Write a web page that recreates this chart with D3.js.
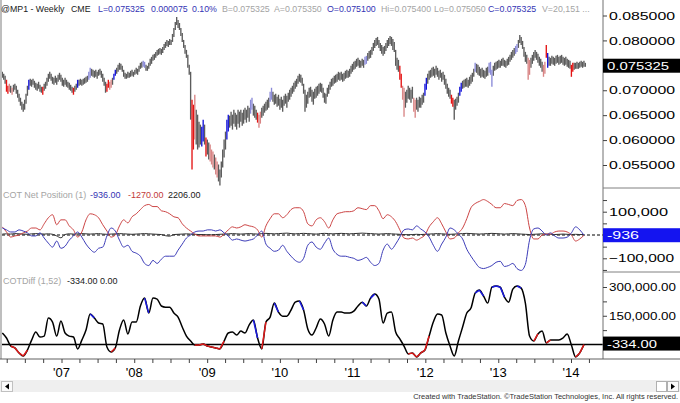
<!DOCTYPE html>
<html><head><meta charset="utf-8">
<script src="https://cdn.jsdelivr.net/npm/d3@7"></script>
<style>html,body{margin:0;padding:0;background:#fff;}svg{display:block;font-family:Arial,"Liberation Sans",sans-serif;}</style>
</head><body><svg id="c" width="680" height="403"></svg>
<script>
// ---------------- DATA ----------------
const firstBarDate = "2006-03-10";           // weekly bars, one per week
// weekly highs / lows, price x 10000
const highsX1e4 = [
737,733,729,721,709,713,709,705,711,713, 709,701,693,685,677,673,681,693,709,721,
723,721,723,719,715,713,717,711,707,707, 713,717,725,733,737,733,727,725,729,725,
731,735,731,725,721,725,721,717,715,711, 707,705,709,713,721,721,723,721,723,725,
727,729,737,745,743,741,739,741,737,741, 743,739,733,725,717,713,721,717,721,725,
733,741,745,751,755,753,749,741,735,733, 737,735,739,741,737,741,745,743,749,755,
757,759,757,751,749,755,763,767,771,773, 777,781,783,785,783,787,793,797,801,799,
803,801,813,825,837,847,841,835,825,815, 801,791,781,771,751,737,681,671,691,661,
651,637,631,627,641,631,605,601,595,591, 581,577,571,565,557,551,541,557,581,601,
617,641,651,649,657,651,661,655,651,661, 657,661,655,661,665,661,669,665,681,685,
673,669,661,655,651,657,665,669,673,677, 681,685,697,705,697,691,693,687,691,683,
687,681,689,693,689,695,701,705,709,715, 719,723,729,733,731,725,713,701,691,697,
705,707,701,697,703,707,709,713,715,713, 705,695,693,705,711,717,723,725,729,731,
733,737,735,737,733,735,739,741,739,743, 749,753,757,759,763,765,761,759,763,761,
767,769,775,779,781,787,795,801,805,807, 801,795,791,787,789,795,801,805,809,807,
803,797,781,765,761,749,733,709,705,697, 701,709,705,701,707,685,681,685,681,687,
685,691,695,713,725,733,739,741,745,747, 743,749,745,739,741,735,737,731,723,713,
705,701,691,685,681,683,687,695,707,715, 719,721,723,725,721,727,731,735,743,755,
753,751,747,743,745,741,739,745,747,755, 757,741,749,755,757,759,761,759,763,765,
761,759,763,767,771,777,781,785,789,793, 801,811,807,799,787,777,771,765,761,765,
771,777,781,777,773,767,763,757,751,757, 791,775,767,765,769,767,765,769,771,767,
769,771,767,765,767,763,761,759,751,755, 755,755,757,755,757,759,757,759,755];
const lowsX1e4 = [
725,721,713,697,693,697,695,691,697,701, 693,685,677,669,661,657,661,673,689,701,
709,707,711,705,701,699,703,697,695,691, 699,703,709,717,723,719,713,711,715,711,
717,721,717,709,707,711,707,705,701,699, 695,691,697,701,705,709,711,709,711,713,
715,717,721,725,729,727,725,727,723,729, 731,725,717,709,695,697,705,701,705,711,
721,729,733,737,741,741,737,727,723,723, 725,725,727,729,727,731,733,731,737,743,
745,747,745,739,739,743,749,753,759,761, 765,769,771,773,771,775,781,785,789,787,
791,791,797,807,821,831,825,821,809,797, 785,773,765,745,731,641,541,581,601,591,
581,585,591,587,597,591,567,571,561,557, 551,545,541,531,525,517,509,525,545,565,
581,601,617,625,629,621,633,627,621,633, 625,637,629,633,641,635,645,637,653,661,
649,645,641,635,625,633,645,649,655,659, 661,665,677,681,677,671,673,667,669,661,
665,657,669,673,665,677,681,687,693,697, 703,707,713,717,715,709,693,657,665,673,
685,687,677,671,683,685,689,693,697,695, 685,675,673,687,693,701,707,709,713,715,
717,721,719,721,717,719,723,725,725,727, 733,737,741,743,747,749,745,745,749,745,
751,753,759,763,765,771,779,785,789,791, 785,779,773,769,773,779,785,789,793,789,
781,777,749,741,737,721,705,681,647,665, 675,683,681,675,683,657,645,661,657,665,
665,671,675,689,701,713,721,725,727,729, 725,731,727,721,725,717,721,711,703,693,
687,683,673,667,641,661,669,675,689,697, 703,705,707,707,705,709,713,717,727,737,
735,731,729,725,727,725,723,727,729,735, 731,707,729,739,741,743,745,745,749,749,
747,745,749,751,757,761,765,769,773,777, 785,795,791,783,767,757,753,721,731,745,
753,759,765,761,755,749,745,737,727,733, 765,745,749,749,753,751,749,753,755,751,
753,755,751,749,751,747,745,743,727,737, 741,743,743,743,745,747,745,747,747];
// bar signal states (week index lists): r strong sell, p weak sell, b strong buy, l weak buy
const barSignalR = [3,4,29,51,75,76,136,137,146,183,285,286,322,323,390,408,409];
const barSignalP = [5,7,77,78,138,149,150,151,153,154,184,185,287,288,295,296,377,378,388,389];
const barSignalB = [19,54,80,81,143,144,161,162,303,304,328,329,391];
const barSignalL = [62,63,101,102,178,179,192,193,260,261,339,349,350,351,368,369];

// COT net positions, thousands of contracts, one value every 3 weeks
const cotLarge = [
30,22,13,13,22,17,9,-4,-4,9, -13,-35,-52,-26,-57,-48,-22,-4,13,-9,
-39,-61,-74,-57,-52,-4,30,17,-22,-52, -44,-70,-78,-91,-122,-131,-109,-122,-104,-91,
-91,-91,-65,-39,-13,0,13,17,17,22, 22,17,22,9,-4,-22,-17,-22,-26,-22,
-17,0,17,-39,-57,-70,-65,-44,-70,-91, -109,-117,-100,-44,-30,-52,-61,-35,-13,-61,
-83,-91,-91,-96,-100,-109,-104,-96,-117,-131, -122,-65,-39,-61,-39,-9,22,26,22,39,
26,13,-9,-44,-70,-39,-9,30,22,4, -17,-61,-91,-117,-139,-144,-139,-131,-117,-113,
-135,-131,-122,-144,-152,-126,-22,26,30,17, 0,9,-4,-13,-13,-9,9,35,22,-0.936];
const cotCommercial = [
35,13,-9,-4,0,9,17,30,30,22, 48,74,87,44,65,65,39,22,-9,13,
65,91,87,74,44,17,-9,0,39,65, 52,78,91,109,126,131,122,122,104,100,
91,78,74,48,30,17,4,-4,-4,-4, -4,-4,-9,4,22,35,30,35,44,39,
35,22,-9,39,70,91,91,74,87,109, 117,117,100,48,39,65,74,57,30,65,
91,96,100,100,104,117,113,109,126,126, 104,70,87,78,57,22,-13,-17,-13,-22,
-13,0,35,57,74,48,13,-17,-13,9, 30,70,117,135,144,152,144,131,117,117,
135,131,126,148,152,126,30,-17,-17,0, 4,4,13,17,17,13,0,-26,-17,-1.27];
const cotSmall = [
4,5,4,6,5,4,3,5,6,5, 4,5,3,-4,-12,2,5,4,5,6,
5,4,5,6,4,3,4,5,6,5, 4,3,4,5,6,5,4,3,2,-3,
-5,2,3,4,5,4,3,2,2,1, 1,2,3,4,5,6,5,4,5,6,
5,4,6,7,6,5,6,7,8,6, 5,6,7,6,5,4,6,7,6,5,
6,7,6,5,6,7,8,7,6,5, 4,5,6,5,4,3,2,1,2,3,
2,3,4,5,6,5,4,3,4,5, 6,7,6,5,4,5,6,7,6,5,
4,5,6,5,4,3,2,3,4,5, 4,3,2,3,4,3,2,3,2,2.206];
// COTDiff (1,52), thousands, every 3 weeks
const cotDiff = [
60,34,-8,-18,-44,-60,-29,23,65,39, 44,138,117,44,122,60,44,39,-23,23,
76,159,138,112,107,-13,-39,-18,76,128, 55,117,117,201,242,164,242,237,201,195,
195,164,143,91,44,18,-3,-3,3,-8, -13,-18,-23,18,60,65,49,70,60,102,
128,34,-23,117,143,216,169,148,148,180, 221,227,180,81,49,86,133,107,44,128,
169,169,164,164,174,201,221,201,242,263, 237,112,164,169,65,29,-8,-49,-44,-65,
-44,-29,44,117,159,154,60,-8,-60,18, 91,164,190,268,284,253,216,299,305,299,
247,221,289,305,294,216,44,18,55,70, 8,23,23,23,34,55,-3,-65,-44,-0.334];
const diffSignalHigh = [21,34,60,65,71,86,88,113,114,117,118,119,123];
const diffSignalLow  = [2,3,4,5,26,46,47,48,49,50,51,52,62,97,98,99,100,101,127,130,137,138];

const priceTicks = [0.085,0.080,0.070,0.065,0.060,0.055];
const cotTicks = [100,-100];
const cotMinorTicks = [150,50,-50,-150];
const diffTicks = [300,150];
const diffMinorTicks = [225,75];
const years = [2007,2008,2009,2010,2011,2012,2013,2014];
const yearLabels = ["'07","'08","'09","'10","'11","'12","'13","'14"];
const lastPrice = 0.075325, lastCot = "-936", lastDiff = "-334.00";

const headerParts = [["@MP1 - Weekly","k"],["CME","k"],["L=0.075325","b"],["0.000075","b"],["0.10%","b"],
  ["B=0.075325","g"],["A=0.075350","g"],["O=0.075100","b"],["Hi=0.075400","g"],["Lo=0.075050","g"],
  ["C=0.075325","b"],["V=20,151 ...","g"]];
const cotHeader = [["COT Net Position (1)","g"],["-936.00","b"],["-1270.00","r"],["2206.00","k"]];
const diffHeader = [["COTDiff (1,52)","g"],["-334.00","k"],["0.00","k"]];
const footer = "Created with TradeStation. \u00A9TradeStation Technologies, Inc. All rights reserved.";

// ---------------- DRAW ----------------
const svg = d3.select("#c");
const t0 = d3.timeParse("%Y-%m-%d")(firstBarDate);
const weekDate = i => d3.timeDay.offset(t0, 7 * i);
const x = d3.scaleTime().domain([new Date(2007,0,1), new Date(2014,0,1)]).range([61.5, 571]);
const yP = d3.scaleLinear().domain([0.055, 0.085]).range([165, 15.5]);
const yC = d3.scaleLinear().domain([-100, 100]).range([258.3, 211.7]);
const yD = d3.scaleLinear().domain([0, 300]).range([344.5, 287]);
const PL = 2, PR = 603, BOT = 359;

svg.append("defs").append("clipPath").attr("id","plot").append("rect")
  .attr("x",PL).attr("y",0).attr("width",PR-PL).attr("height",BOT);

const txtCol = {k:"#202020", b:"#3434b4", g:"#a4a4a4", r:"#c23a3a"};
function header(parts, xs, y, fs){
  svg.append("g").selectAll("text").data(parts).join("text")
    .attr("x",(d,i)=>xs[i]).attr("y",y).attr("font-size",fs||9)
    .attr("fill",d=>txtCol[d[1]]).text(d=>d[0]);
}

// price bars
const sig = new Map();
barSignalR.forEach(i=>sig.set(i,"r")); barSignalP.forEach(i=>sig.set(i,"p"));
barSignalB.forEach(i=>sig.set(i,"b")); barSignalL.forEach(i=>sig.set(i,"l"));
const barCol = {g:"#5c5c5c", r:"#e41414", p:"#d88484", b:"#1414d8", l:"#8a8ad8"};
const bars = highsX1e4.map((h,i)=>({i, h:h/1e4, l:lowsX1e4[i]/1e4, s:sig.get(i)||"g"}));
const gBars = svg.append("g").attr("clip-path","url(#plot)");
gBars.selectAll("line").data(bars.filter(d=>d.s==="g").concat(bars.filter(d=>d.s!=="g"))).join("line")
  .attr("x1",d=>x(weekDate(d.i))).attr("x2",d=>x(weekDate(d.i)))
  .attr("y1",d=>yP(d.h)).attr("y2",d=>yP(d.l))
  .attr("stroke",d=>barCol[d.s]).attr("stroke-width",1.35);

// COT panel
const cx = (d,k)=>x(weekDate(3*k));
const gC = svg.append("g").attr("clip-path","url(#plot)");
gC.append("line").attr("x1",PL).attr("x2",PR).attr("y1",yC(0)).attr("y2",yC(0))
  .attr("stroke","#000").attr("stroke-dasharray","3,2").attr("stroke-width",1);
const lineC = d3.line().x(cx).y(d=>yC(d)).curve(d3.curveMonotoneX);
gC.append("path").attr("d",lineC(cotSmall)).attr("fill","none").attr("stroke","#303030").attr("stroke-width",1);
gC.append("path").attr("d",lineC(cotCommercial)).attr("fill","none").attr("stroke","#cc4444").attr("stroke-width",1);
gC.append("path").attr("d",lineC(cotLarge)).attr("fill","none").attr("stroke","#3c3cb8").attr("stroke-width",1);

// COTDiff panel
const gD = svg.append("g").attr("clip-path","url(#plot)");
gD.append("line").attr("x1",PL).attr("x2",PR).attr("y1",yD(0)).attr("y2",yD(0))
  .attr("stroke","#000").attr("stroke-width",1.4);
const lineD = d3.line().x(cx).y(d=>yD(d)).curve(d3.curveMonotoneX);
gD.append("path").attr("d",lineD(cotDiff)).attr("fill","none").attr("stroke","#000").attr("stroke-width",1.5);
function segs(list,color){
  list.forEach(k=>{
    const idx=[k,k+1].filter(j=>j>=0&&j<cotDiff.length);
    const seg=d3.line().x(j=>x(weekDate(3*j))).y(j=>yD(cotDiff[j]));
    gD.append("path").attr("d",seg(idx)).attr("fill","none").attr("stroke",color).attr("stroke-width",1.5);
  });
}
segs(diffSignalHigh,"#1a1ae0"); segs(diffSignalLow,"#e01a1a");

// frame
svg.append("line").attr("x1",1).attr("x2",1).attr("y1",0).attr("y2",BOT).attr("stroke","#a8a8a8").attr("stroke-width",1.5);
svg.append("line").attr("x1",PR).attr("x2",PR).attr("y1",0).attr("y2",BOT).attr("stroke","#707070");
svg.append("line").attr("x1",0).attr("x2",680).attr("y1",BOT).attr("y2",BOT).attr("stroke","#606060");
[188,272].forEach(y=>svg.append("line").attr("x1",PR).attr("x2",680).attr("y1",y).attr("y2",y).attr("stroke","#808080"));

// right axes
function rAxis(scale, vals, fmt, tl, minor){
  const g = svg.append("g").attr("transform",`translate(${PR},0)`)
    .call(d3.axisRight(scale).tickValues(vals).tickFormat(fmt).tickSize(4).tickPadding(2));
  g.select(".domain").remove();
  g.selectAll("line").attr("stroke","#404040");
  g.selectAll("text").attr("font-size",11.5).attr("fill","#000").attr("font-family","Arial,'Liberation Sans',sans-serif")
    .attr("textLength",tl).attr("lengthAdjust","spacingAndGlyphs");
  if(minor){
    const m = svg.append("g").attr("transform",`translate(${PR},0)`)
      .call(d3.axisRight(scale).tickValues(minor).tickFormat("").tickSize(4));
    m.select(".domain").remove(); m.selectAll("line").attr("stroke","#404040");
  }
}
rAxis(yP, priceTicks, d3.format(".6f"), 66);
rAxis(yC, cotTicks, d=>d3.format(",")(d*1000), d=>d<0?65:59, cotMinorTicks);
rAxis(yD, diffTicks, d=>d3.format(",.2f")(d*1000), 67, diffMinorTicks);

function box(yc, label, fill, tl){
  svg.append("rect").attr("x",PR).attr("y",yc-7).attr("width",680-PR).attr("height",14).attr("fill",fill);
  svg.append("text").attr("x",PR+4).attr("y",yc+4.2).attr("font-size",11.5).attr("fill","#fff")
    .attr("textLength",tl).attr("lengthAdjust","spacingAndGlyphs").text(label);
}
box(yP(lastPrice)+2, d3.format(".6f")(lastPrice), "#000", 62);
box(yC(+lastCot/1000), lastCot, "#1414f0", 32);
box(yD(parseFloat(lastDiff)/1000)-1, lastDiff, "#000", 50);

// time axis
const tg = svg.append("g").attr("transform",`translate(0,${BOT})`)
  .call(d3.axisBottom(x).tickValues(d3.timeMonth.every(3).range(new Date(2006,3,1), new Date(2014,4,1))).tickFormat("").tickSize(4));
tg.select(".domain").remove(); tg.selectAll("line").attr("stroke","#404040");
svg.append("g").selectAll("text").data(years).join("text")
  .attr("x",d=>x(new Date(d,0,1))).attr("y",377).attr("text-anchor","middle")
  .attr("font-size",13).attr("fill","#000").text((d,i)=>yearLabels[i]);

// headers
header(headerParts,[1,71,98,151,192,222,274,327,381,434,488,542],11.5,8.8);
header(cotHeader,[3,90,128,168],198);
header(diffHeader,[3,67,100],284);

// scrollbar + footer
svg.append("rect").attr("x",0).attr("y",380).attr("width",680).attr("height",12).attr("fill","#efefef");
svg.append("rect").attr("x",1.5).attr("y",381.5).attr("width",11).attr("height",10).attr("fill","#fafafa").attr("stroke","#c0c0c0");
svg.append("path").attr("d","M5,386.5L9,383.5L9,389.5Z").attr("fill","#000");
svg.append("rect").attr("x",656.5).attr("y",381.5).attr("width",10).attr("height",10).attr("fill","#fff").attr("stroke","#b0b0b0");
svg.append("rect").attr("x",667.5).attr("y",381.5).attr("width",11).attr("height",10).attr("fill","#fafafa").attr("stroke","#b0b0b0");
svg.append("path").attr("d","M675,386.5L671,383.5L671,389.5Z").attr("fill","#000");
svg.append("text").attr("x",678).attr("y",399).attr("text-anchor","end").attr("font-size",7.5)
  .attr("fill","#333").text(footer);
</script></body></html>
